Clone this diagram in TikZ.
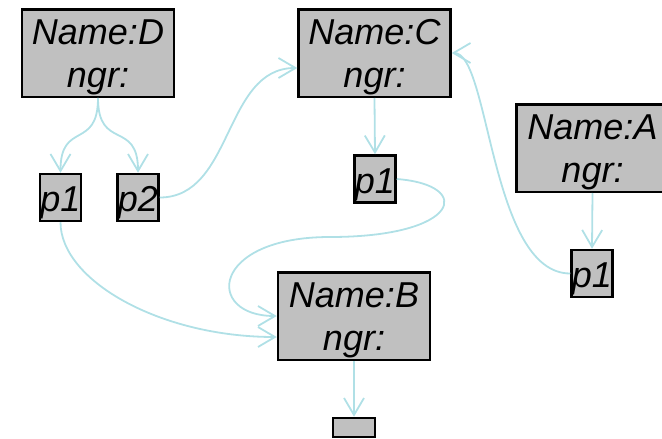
\documentclass[tikz,border=0pt]{standalone}
\usepackage{fontspec}
\setmainfont{Liberation Sans}
\usetikzlibrary{arrows.meta,calc}
\definecolor{edgecol}{RGB}{176,224,230}
\definecolor{boxfill}{RGB}{192,192,192}
\begin{document}
\begin{tikzpicture}[x=1pt,y=-1pt,
  bigbox/.style={draw=black, line width=2.5pt, fill=boxfill, minimum width=152pt, minimum height=87.5pt, inner sep=0pt, align=center, font=\fontsize{36}{43}\selectfont\itshape},
  port/.style={draw=black, line width=2.5pt, fill=boxfill, minimum width=41pt, minimum height=47pt, inner sep=0pt, text height=36pt, text depth=7.6pt, font=\fontsize{36}{43}\selectfont\itshape},
  stub/.style={draw=black, line width=2.5pt, fill=boxfill, minimum width=42pt, minimum height=19pt, inner sep=0pt},
  link/.style={draw=edgecol, line width=1.8pt, -{Straight Barb[length=17pt,width=20pt]}}
]
\useasboundingbox (0,0) rectangle (662,439);
\clip (0,0) rectangle (662,439);

\node[bigbox] (D) at (98,53) {\rule{0pt}{34.4pt}Name:D\\ngr:};
\node[bigbox] (C) at (374.5,53) {\rule{0pt}{34.4pt}Name:C\\ngr:};
\node[bigbox] (A) at (592.5,148) {\rule{0pt}{34.4pt}Name:A\\ngr:};
\node[bigbox] (B) at (354,316) {\rule{0pt}{34.4pt}Name:B\\ngr:};

\node[port] (Dp1) at (60.5,197.5) {p1};
\node[port] (Dp2) at (138,197.5) {p2};
\node[port] (Cp1) at (375,179) {p1};
\node[port] (Ap1) at (592,273.5) {p1};
\node[stub] (Bc) at (354,427.5) {};

\coordinate (loopw) at (330,237);

\draw[link] (D.south) to[out=-90,in=90,looseness=1.6] (Dp1.north);
\draw[link] (D.south) to[out=-90,in=90,looseness=1.6] (Dp2.north);
\draw[link] (Dp2.east) to[out=0,in=180] ($(C.west)+(0,15)$);
\draw[link] (C.south) -- (Cp1.north);
\draw[link] (A.south) -- (Ap1.north);
\draw[link] (B.south) -- (Bc.north);
\draw[link] (Dp1.south) .. controls ($(Dp1.south)+(0,58)$) and ($(B.west)+(-117,21)$) .. ($(B.west)+(0,21)$);
\draw[link] (Ap1.west) .. controls ($(Ap1.west)+(-80,0)$) and ($(C.east)+(38,0)$) .. (C.east);
\draw[link] (Cp1.east) .. controls ($(Cp1.east)+(78,6)$) and ($(loopw)+(130,0)$) .. (loopw) .. controls ($(loopw)+(-120,0)$) and ($(B.west)+(-72,0)$) .. (B.west);
\end{tikzpicture}
\end{document}
